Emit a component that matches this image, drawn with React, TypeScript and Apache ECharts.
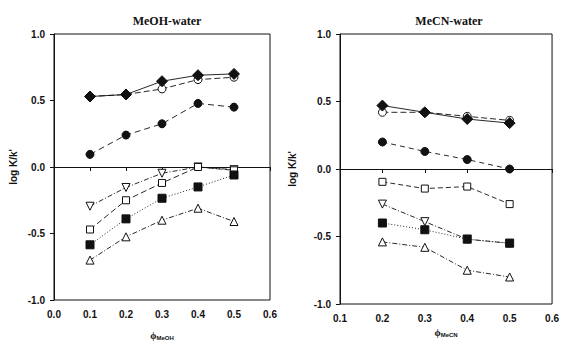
import React, { useEffect, useRef } from "react";
import * as echarts from "echarts";

const phiMeOH = [0.1, 0.2, 0.3, 0.4, 0.5];
const phiMeCN = [0.2, 0.3, 0.4, 0.5];

// MeOH-water
const meohDiamond = [0.53, 0.545, 0.645, 0.69, 0.7];
const meohOpenCircle = [0.53, 0.545, 0.587, 0.657, 0.675];
const meohFilledCircle = [0.095, 0.24, 0.325, 0.478, 0.45];
const meohDownTri = [-0.295, -0.154, -0.047, 0.0, -0.02];
const meohOpenSquare = [-0.47, -0.25, -0.12, 0.0, -0.025];
const meohFilledSquare = [-0.585, -0.39, -0.235, -0.15, -0.06];
const meohUpTri = [-0.7, -0.525, -0.4, -0.31, -0.41];

// MeCN-water
const mecnDiamond = [0.47, 0.42, 0.37, 0.34];
const mecnOpenCircle = [0.42, 0.42, 0.39, 0.36];
const mecnFilledCircle = [0.2, 0.13, 0.07, 0.0];
const mecnOpenSquare = [-0.095, -0.145, -0.13, -0.26];
const mecnDownTri = [-0.26, -0.39, -0.52, -0.55];
const mecnFilledSquare = [-0.4, -0.45, -0.52, -0.55];
const mecnUpTri = [-0.54, -0.58, -0.75, -0.8];

const titles = ["MeOH-water", "MeCN-water"];
const yName = "log K/k'";

const pair = (xs: number[], ys: number[]) => xs.map((x, i) => [x, ys[i]]);

type Spec = {
  ys: number[];
  symbol: string;
  filled: boolean;
  rotate?: number;
  size: number;
  line: any;
};

export default function App() {
  const ref = useRef<HTMLDivElement>(null);
  useEffect(() => {
    if (!ref.current) return;
    const chart = echarts.init(ref.current, null, { renderer: "svg" });

    const mk = (xs: number[], s: Spec, idx: number) => ({
      type: "line",
      xAxisIndex: idx,
      yAxisIndex: idx,
      data: pair(xs, s.ys),
      symbol: s.symbol,
      symbolSize: s.size,
      symbolRotate: s.rotate || 0,
      showAllSymbol: true,
      lineStyle: { color: "#111", width: 0.9, type: s.line },
      itemStyle: {
        color: s.filled ? "#111" : "#fff",
        borderColor: "#111",
        borderWidth: 1,
      },
      z: s.filled ? 5 : 3,
    });

    const left: Spec[] = [
      { ys: meohOpenCircle, symbol: "circle", filled: false, size: 8, line: [6, 3] },
      { ys: meohDiamond, symbol: "diamond", filled: true, size: 11, line: "solid" },
      { ys: meohFilledCircle, symbol: "circle", filled: true, size: 8, line: [6, 4] },
      { ys: meohDownTri, symbol: "triangle", rotate: 180, filled: false, size: 8, line: [5, 2, 1, 2] },
      { ys: meohOpenSquare, symbol: "rect", filled: false, size: 7, line: [6, 3] },
      { ys: meohFilledSquare, symbol: "rect", filled: true, size: 8, line: [1, 2] },
      { ys: meohUpTri, symbol: "triangle", filled: false, size: 8, line: [5, 2, 1, 2] },
    ];
    const right: Spec[] = [
      { ys: mecnOpenCircle, symbol: "circle", filled: false, size: 8, line: [6, 3] },
      { ys: mecnDiamond, symbol: "diamond", filled: true, size: 11, line: "solid" },
      { ys: mecnFilledCircle, symbol: "circle", filled: true, size: 8, line: [5, 4] },
      { ys: mecnOpenSquare, symbol: "rect", filled: false, size: 7, line: [5, 3] },
      { ys: mecnDownTri, symbol: "triangle", rotate: 180, filled: false, size: 8, line: [5, 2, 1, 2] },
      { ys: mecnFilledSquare, symbol: "rect", filled: true, size: 8, line: [1, 2] },
      { ys: mecnUpTri, symbol: "triangle", filled: false, size: 8, line: [5, 2, 1, 2] },
    ];

    const labelStyle = {
      color: "#111",
      fontSize: 10,
      fontWeight: "bold" as const,
      fontFamily: "Liberation Sans, Arial, sans-serif",
    };
    const axisLine = { show: true, lineStyle: { color: "#111", width: 1 } };
    const axisTick = { show: true, inside: false, length: 4, lineStyle: { color: "#111" } };

    const xAxisBase = (idx: number, min: number, sub: string, gap: number) => ({
      type: "value",
      gridIndex: idx,
      min,
      max: 0.6,
      interval: 0.1,
      axisLine,
      axisTick,
      splitLine: { show: false },
      axisLabel: { ...labelStyle, margin: 9, formatter: (v: number) => v.toFixed(1) },
      name: `{a|ϕ}{b|${sub}}`,
      nameLocation: "middle",
      nameGap: gap,
      nameTextStyle: {
        rich: {
          a: { fontSize: 10, fontWeight: "bold", color: "#111", fontFamily: "Liberation Serif, serif" },
          b: { fontSize: 6, fontWeight: "bold", color: "#111", fontFamily: "Liberation Sans, sans-serif", padding: [5, 0, 0, 0] },
        },
      },
    });
    const yAxisBase = (idx: number, gap: number) => ({
      type: "value",
      gridIndex: idx,
      min: -1,
      max: 1,
      interval: 0.5,
      axisLine,
      axisTick,
      splitLine: { show: false },
      axisLabel: { ...labelStyle, margin: 9, formatter: (v: number) => v.toFixed(1) },
      name: yName,
      nameLocation: "middle",
      nameRotate: 90,
      nameGap: gap,
      nameTextStyle: { ...labelStyle, fontSize: 10 },
    });

    const titleStyle = { fontSize: 12, fontWeight: "bold", color: "#111", fontFamily: "Liberation Serif, serif" };

    chart.setOption({
      animation: false,
      backgroundColor: "#fff",
      title: [
        { text: titles[0], left: 162, top: 10, textAlign: "center", textStyle: titleStyle },
        { text: titles[1], left: 444, top: 10, textAlign: "center", textStyle: titleStyle },
      ],
      grid: [
        { left: 54, right: 292, top: 34, bottom: 41, show: true, borderColor: "#111", borderWidth: 1, backgroundColor: "transparent" },
        { left: 340, right: 7, top: 34, bottom: 42, show: true, borderColor: "#111", borderWidth: 1, backgroundColor: "transparent" },
      ],
      xAxis: [xAxisBase(0, 0, "MeOH", 30), xAxisBase(1, 0.1, "MeCN", 23)],
      yAxis: [yAxisBase(0, 36), yAxisBase(1, 43)],
      series: [...left.map((s) => mk(phiMeOH, s, 0)), ...right.map((s) => mk(phiMeCN, s, 1))],
    });
    return () => chart.dispose();
  }, []);
  return <div ref={ref} style={{ width: 562, height: 346, position: "absolute", left: 0, top: 0 }} />;
}
